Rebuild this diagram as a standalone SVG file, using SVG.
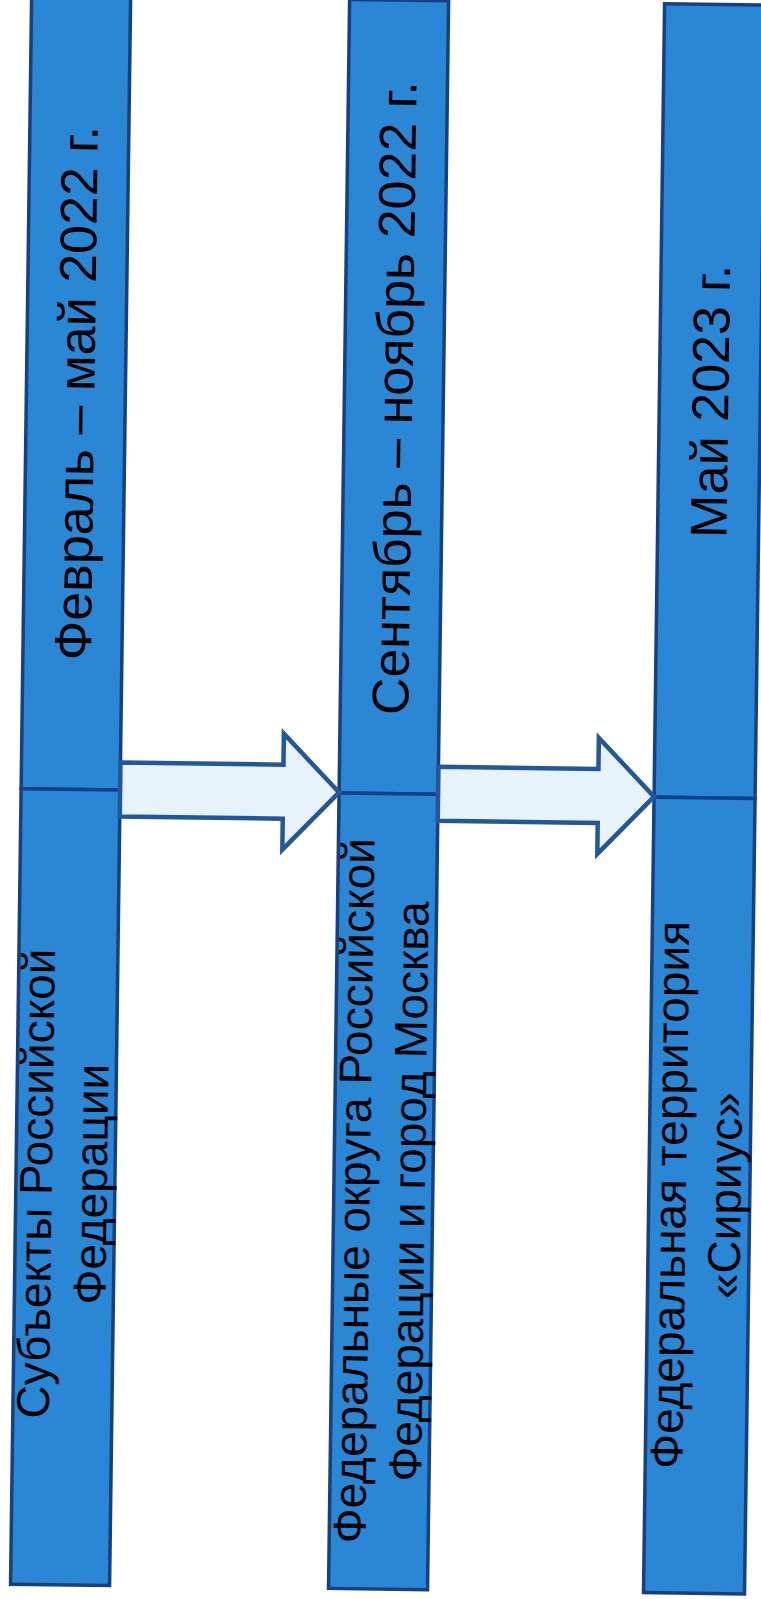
<svg xmlns="http://www.w3.org/2000/svg" width="761" height="1599" viewBox="0 0 761 1599">
<style>
.box{fill:#2987D6;stroke:#173F82;stroke-width:3.5}
.arrow{fill:#E6F3FB;stroke:#24579A;stroke-width:4.5;stroke-linejoin:miter}
.t{font-family:"Liberation Sans",Arial,sans-serif;fill:#000;text-anchor:middle}
.big{font-size:52px}
.sm{font-size:46px}
</style>
<rect width="761" height="1599" fill="#fff"/>
<g transform="rotate(0.76 380 800)">
<g id="col1-date"><rect class="box" x="21" y="-10" width="99" height="803.5"/>
<text class="t big" transform="translate(89,397) rotate(-90)">Февраль – май 2022 г.</text></g>
<g id="col1-subject"><rect class="box" x="21" y="793.5" width="99" height="795.5"/>
<text class="t sm" transform="translate(57,1188) rotate(-90)">Субъекты Российской</text>
<text class="t sm" transform="translate(112,1188) rotate(-90)">Федерации</text></g>
<g id="col2-date"><rect class="box" x="339" y="0" width="99" height="793.5"/>
<text class="t big" transform="translate(407,398) rotate(-90)">Сентябрь – ноябрь 2022 г.</text></g>
<g id="col2-subject"><rect class="box" x="339" y="793.5" width="99" height="795.5"/>
<text class="t sm" transform="translate(375,1191) rotate(-90)">Федеральные округа Российской</text>
<text class="t sm" transform="translate(430,1191) rotate(-90)">Федерации и город Москва</text></g>
<g id="col3-date"><rect class="box" x="654" y="0" width="101" height="793.5"/>
<text class="t big" transform="translate(723,397) rotate(-90)">Май 2023 г.</text></g>
<g id="col3-subject"><rect class="box" x="654" y="793.5" width="101" height="795.5"/>
<text class="t sm" transform="translate(691,1191) rotate(-90)">Федеральная территория</text>
<text class="t sm" transform="translate(746,1191) rotate(-90)">«Сириус»</text></g>
<g id="connectors">
<path class="arrow" d="M120,766 H283 V735 L339,793 L283,851 V820 H120 Z"/>
<path class="arrow" d="M438,766 H598 V735 L654,793 L598,851 V820 H438 Z"/>
</g>
</g>
</svg>
